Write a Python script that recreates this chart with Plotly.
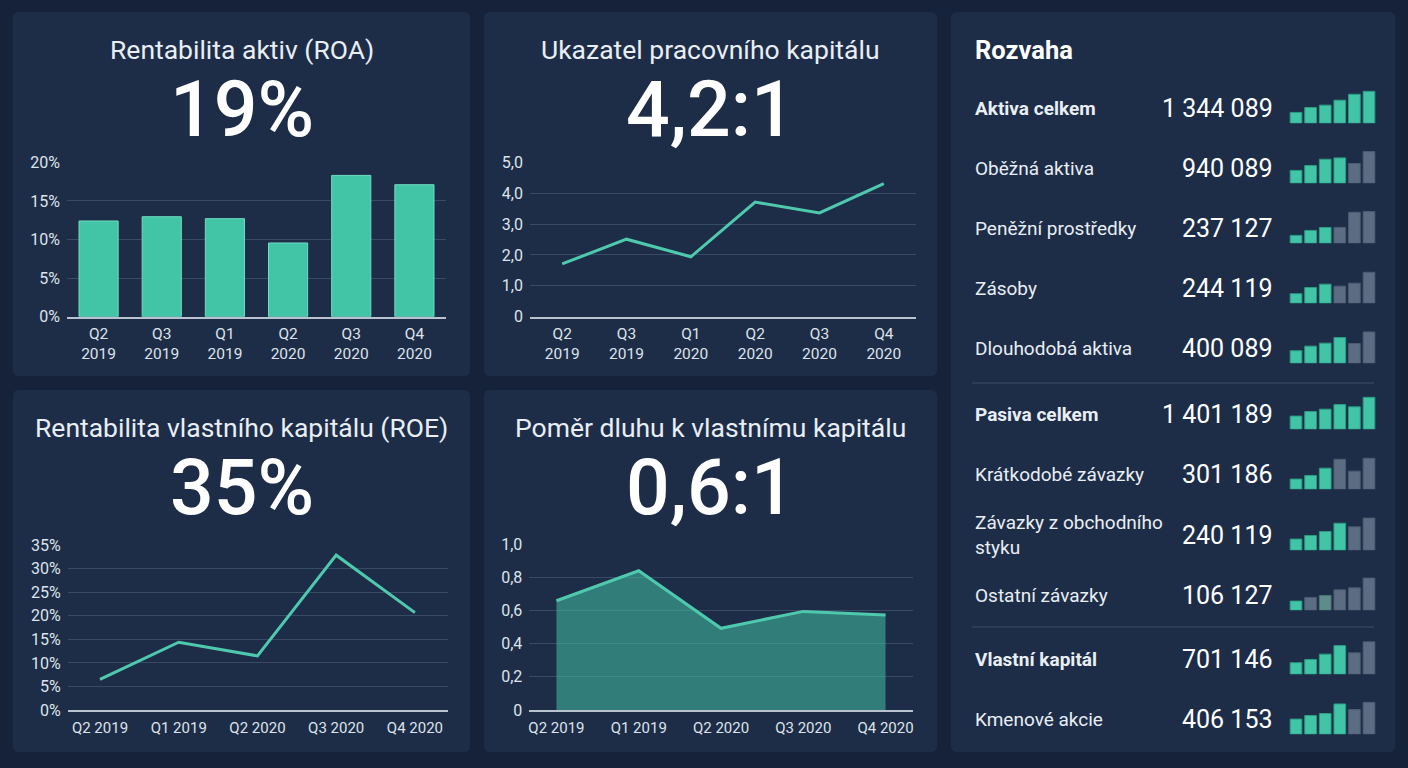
import plotly.graph_objects as go

W, H = 1408, 768
PAGE_BG = "#15223a"
PANEL_BG = "#1d2d47"
GRID = "#384a64"
AXLINE = "#b9c3cf"
TXT = "#e9eef4"
TICK = "#dde3ea"
TEAL = "#42c5a6"
LINE = "#4fc9ae"
GRAY = "#5b6c83"
MUTED = "#5e8c8a"
FONT = "Roboto"

# ---------------- data ----------------
roa_quarters = ["Q2 2019", "Q3 2019", "Q1 2019", "Q2 2020", "Q3 2020", "Q4 2020"]
roa_values = [12.4, 12.95, 12.7, 9.55, 18.3, 17.1]
roa_ticks = [0, 5, 10, 15, 20]

wc_quarters = ["Q2 2019", "Q3 2019", "Q1 2020", "Q2 2020", "Q3 2020", "Q4 2020"]
wc_values = [1.71, 2.51, 1.94, 3.71, 3.36, 4.31]
wc_ticks = [0, 1, 2, 3, 4, 5]
wc_ticktext = ["0", "1,0", "2,0", "3,0", "4,0", "5,0"]

roe_quarters = ["Q2 2019", "Q1 2019", "Q2 2020", "Q3 2020", "Q4 2020"]
roe_values = [6.5, 14.4, 11.5, 32.9, 20.7]
roe_ticks = [0, 5, 10, 15, 20, 25, 30, 35]

de_quarters = ["Q2 2019", "Q1 2019", "Q2 2020", "Q3 2020", "Q4 2020"]
de_values = [0.658, 0.839, 0.492, 0.594, 0.572]
de_ticks = [0, 0.2, 0.4, 0.6, 0.8, 1.0]
de_ticktext = ["0", "0,2", "0,4", "0,6", "0,8", "1,0"]

kpi_titles = ["Rentabilita aktiv (ROA)", "Ukazatel pracovního kapitálu",
              "Rentabilita vlastního kapitálu (ROE)", "Poměr dluhu k vlastnímu kapitálu"]
kpi_values = ["19%", "4,2:1", "35%", "0,6:1"]

bs_labels = ["Aktiva celkem", "Oběžná aktiva", "Peněžní prostředky", "Zásoby",
             "Dlouhodobá aktiva", "Pasiva celkem", "Krátkodobé závazky",
             "Závazky z obchodního<br>styku", "Ostatní závazky", "Vlastní kapitál",
             "Kmenové akcie"]
bs_values = ["1 344 089", "940 089", "237 127", "244 119", "400 089", "1 401 189",
             "301 186", "240 119", "106 127", "701 146", "406 153"]
bs_bold = [True, False, False, False, False, True, False, False, False, True, False]
bs_spark = [
    [3.3, 4.8, 5.5, 7.0, 8.8, 9.7],
    [3.9, 5.4, 7.3, 7.7, 6.0, 9.6],
    [2.4, 3.9, 4.8, 4.8, 9.4, 9.6],
    [2.9, 4.8, 5.8, 5.2, 6.1, 9.4],
    [3.8, 5.2, 6.1, 7.8, 6.0, 9.5],
    [4.0, 5.4, 6.1, 7.5, 6.8, 9.7],
    [3.1, 4.2, 6.4, 9.1, 5.5, 9.4],
    [3.4, 4.5, 5.7, 8.2, 7.1, 9.8],
    [2.8, 3.9, 4.5, 6.2, 6.8, 9.8],
    [3.5, 4.5, 6.1, 8.7, 6.5, 9.9],
    [4.6, 5.7, 6.3, 9.2, 7.5, 9.7],
]
bs_spark_kind = ["GGGGGG", "GGGGSS", "GGGSSS", "GGGSSS", "GGGGSS", "GGGGGG",
                 "GGGSSS", "GGGGSS", "GSMSSS", "GGGGSS", "GGGGSS"]

# ---------------- layout helpers ----------------
def px_x(x):
    return x / W

def px_y(y):
    return 1 - y / H

def rounded_panel(x0, y0, x1, y1, r=6):
    rx, ry = r / W, r / H
    X0, X1 = px_x(x0), px_x(x1)
    Y0, Y1 = px_y(y1), px_y(y0)  # bottom, top
    path = (f"M {X0+rx},{Y1} L {X1-rx},{Y1} Q {X1},{Y1} {X1},{Y1-ry} "
            f"L {X1},{Y0+ry} Q {X1},{Y0} {X1-rx},{Y0} L {X0+rx},{Y0} "
            f"Q {X0},{Y0} {X0},{Y0+ry} L {X0},{Y1-ry} Q {X0},{Y1} {X0+rx},{Y1} Z")
    return dict(type="path", xref="paper", yref="paper", path=path,
                fillcolor=PANEL_BG, line=dict(width=0), layer="below")

fig = go.Figure()
shapes = []
annotations = []

panels = [(13, 12, 470, 376), (484, 12, 937, 376), (13, 390, 470, 752),
          (484, 390, 937, 752), (951, 12, 1395, 752)]
for p in panels:
    shapes.append(rounded_panel(*p))

# KPI titles and big values
kpi_pos = [(241.5, 49, 110), (710.5, 49, 110), (241.5, 427, 488), (710.5, 427, 488)]
for (cx, ty, vy), t, v in zip(kpi_pos, kpi_titles, kpi_values):
    annotations.append(dict(x=px_x(cx), y=px_y(ty), xref="paper", yref="paper",
                            text=t, showarrow=False, xanchor="center", yanchor="middle",
                            font=dict(family=FONT, size=26.5, color=TXT)))
    annotations.append(dict(x=px_x(cx), y=px_y(vy), xref="paper", yref="paper",
                            text=v, showarrow=False, xanchor="center", yanchor="middle",
                            font=dict(family=FONT, size=77, color="#ffffff", weight=500)))

def base_x(anchor, domain, rng, ticktext, tickvals, size, standoff):
    return dict(anchor=anchor, domain=domain, range=rng, type="linear", tickvals=tickvals,
                ticktext=ticktext, showgrid=False, zeroline=False, showline=True,
                linecolor=AXLINE, linewidth=2, ticks="", fixedrange=True,
                automargin=False, ticklabelstandoff=standoff,
                tickfont=dict(family=FONT, size=size, color=TICK))

def base_y(anchor, domain, rng, tickvals, ticktext):
    return dict(anchor=anchor, domain=domain, range=rng, tickvals=tickvals,
                ticktext=ticktext, showgrid=True, gridcolor=GRID, gridwidth=1,
                zeroline=False, showline=False, ticks="", fixedrange=True,
                automargin=False, ticklabelstandoff=6,
                tickfont=dict(family=FONT, size=16, color=TICK))

layout_axes = {}

# Chart 1: ROA bars
idx1 = list(range(len(roa_quarters)))
fig.add_trace(go.Bar(x=idx1, y=roa_values, xaxis="x", yaxis="y",
                     marker=dict(color=TEAL, line=dict(color="#6fdcc0", width=1)),
                     width=0.62, hoverinfo="skip"))
layout_axes["xaxis"] = base_x("y", [px_x(67), px_x(446)], [-0.5, 5.5],
                              [q.replace(" ", "<br>") for q in roa_quarters], idx1, 15.5, 2)
layout_axes["yaxis"] = base_y("x", [px_y(316.7), px_y(162.3)], [0, 20], roa_ticks,
                              [f"{t}%" for t in roa_ticks])

# Chart 2: working capital line
idx2 = list(range(len(wc_quarters)))
fig.add_trace(go.Scatter(x=idx2, y=wc_values, xaxis="x2", yaxis="y2", mode="lines",
                         line=dict(color=LINE, width=3), hoverinfo="skip"))
layout_axes["xaxis2"] = base_x("y2", [px_x(530), px_x(916)], [-0.5, 5.5],
                               [q.replace(" ", "<br>") for q in wc_quarters], idx2, 15.5, 2)
layout_axes["yaxis2"] = base_y("x2", [px_y(316.7), px_y(162.3)], [0, 5], wc_ticks, wc_ticktext)

# Chart 3: ROE line
idx3 = list(range(len(roe_quarters)))
fig.add_trace(go.Scatter(x=idx3, y=roe_values, xaxis="x3", yaxis="y3", mode="lines",
                         line=dict(color=LINE, width=3), hoverinfo="skip"))
layout_axes["xaxis3"] = base_x("y3", [px_x(67.7), px_x(448)], [-0.41, 4.42],
                               roe_quarters, idx3, 15, 3)
layout_axes["yaxis3"] = base_y("x3", [px_y(710), px_y(545.3)], [0, 35], roe_ticks,
                               [f"{t}%" for t in roe_ticks])

# Chart 4: debt/equity area
idx4 = list(range(len(de_quarters)))
fig.add_trace(go.Scatter(x=idx4, y=de_values, xaxis="x4", yaxis="y4", mode="lines",
                         fill="tozeroy", fillcolor="rgba(66,192,162,0.55)",
                         line=dict(color=LINE, width=3), hoverinfo="skip"))
layout_axes["xaxis4"] = base_x("y4", [px_x(529.3), px_x(912.7)], [-0.33, 4.33],
                               de_quarters, idx4, 15, 3)
layout_axes["yaxis4"] = base_y("x4", [px_y(710), px_y(544)], [0, 1.0], de_ticks, de_ticktext)

# Balance sheet panel
annotations.append(dict(x=px_x(973), y=px_y(50), xref="paper", yref="paper",
                        text="Rozvaha", showarrow=False, xanchor="left", yanchor="middle",
                        font=dict(family=FONT, size=25.5, color="#ffffff", weight=700)))

row_centers = [108, 168, 228, 288, 348, 414, 474, 535, 595, 659, 719]
for y0 in (383, 627):
    shapes.append(dict(type="line", xref="paper", yref="paper",
                       x0=px_x(972), x1=px_x(1374), y0=px_y(y0), y1=px_y(y0),
                       line=dict(color="#3c4e68", width=1)))

color_map = {"G": TEAL, "S": GRAY, "M": MUTED}
outline_map = {"G": "#2b9c83", "S": "#4b5b72", "M": "#4b7373"}
for i, (lab, val, bold, spark, kind, cy) in enumerate(
        zip(bs_labels, bs_values, bs_bold, bs_spark, bs_spark_kind, row_centers)):
    annotations.append(dict(x=px_x(973), y=px_y(cy), xref="paper", yref="paper",
                            text=lab, showarrow=False, xanchor="left", yanchor="middle",
                            align="left",
                            font=dict(family=FONT, size=19, color=TXT,
                                      weight=700 if bold else 400)))
    annotations.append(dict(x=px_x(1275), y=px_y(cy), xref="paper", yref="paper",
                            text=val, showarrow=False, xanchor="right", yanchor="middle",
                            font=dict(family=FONT, size=25, color="#ffffff")))
    n = 5 + i
    xs = list(range(len(spark)))
    fig.add_trace(go.Bar(x=xs, y=spark, xaxis=f"x{n}", yaxis=f"y{n}",
                         marker=dict(color=[color_map[k] for k in kind],
                                     line=dict(color=[outline_map[k] for k in kind], width=1)),
                         width=0.8, hoverinfo="skip"))
    bottom = cy + 15.3
    layout_axes[f"xaxis{n}"] = dict(anchor=f"y{n}", domain=[px_x(1288.7), px_x(1376.3)],
                                    range=[-0.5, 5.5], visible=False, fixedrange=True,
                                    automargin=False)
    layout_axes[f"yaxis{n}"] = dict(anchor=f"x{n}", domain=[px_y(bottom), px_y(bottom - 33)],
                                    range=[0, 10], visible=False, fixedrange=True,
                                    automargin=False)

fig.update_layout(
    template="none",
    width=W, height=H, autosize=False,
    margin=dict(l=0, r=0, t=0, b=0, pad=0, autoexpand=False),
    paper_bgcolor=PAGE_BG, plot_bgcolor="rgba(0,0,0,0)",
    showlegend=False, shapes=shapes, annotations=annotations,
    font=dict(family=FONT, color=TXT),
    **layout_axes,
)

fig.write_html(
    "out.html",
    config={"displayModeBar": False, "responsive": False},
    post_script="document.body.style.margin='0';document.body.style.padding='0';"
                "document.body.style.background='" + PAGE_BG + "';",
)
